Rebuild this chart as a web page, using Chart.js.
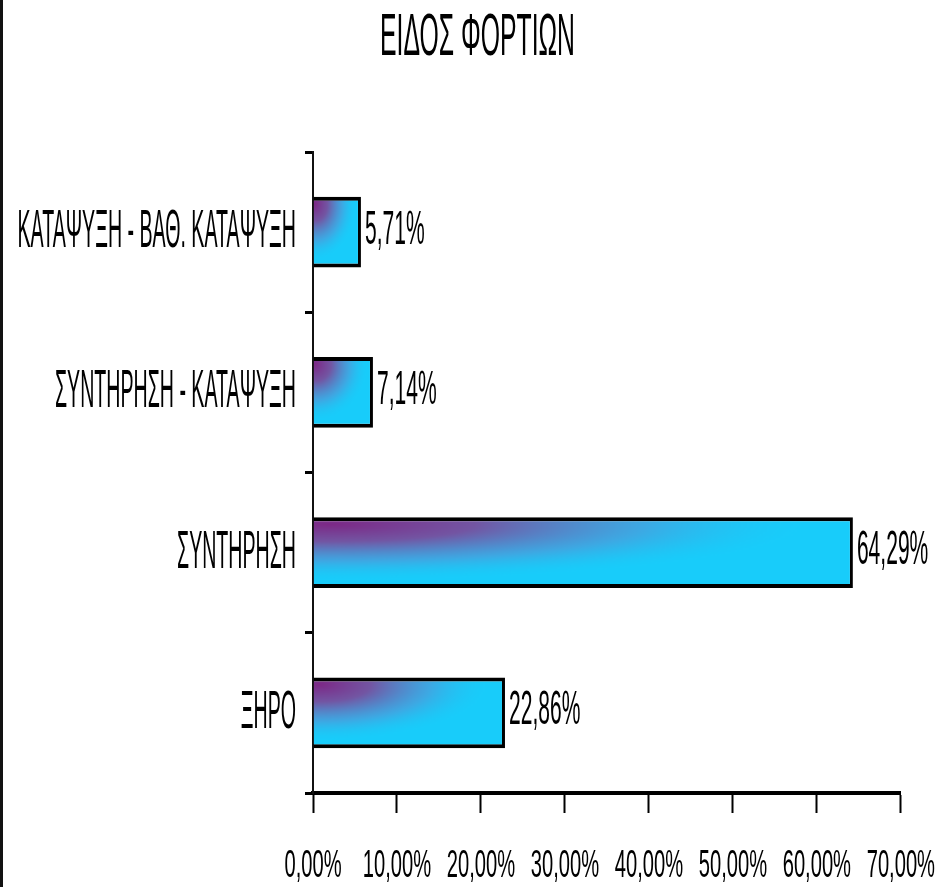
<!DOCTYPE html>
<html>
<head>
<meta charset="utf-8">
<script src="https://cdn.jsdelivr.net/npm/chart.js@4"></script>
<style>
  html, body { margin: 0; padding: 0; background: #fff; }
  #wrap { position: relative; width: 939px; height: 887px; }
  #edge { position: absolute; left: 0; top: 0; width: 3px; height: 887px; background: #111; }
</style>
</head>
<body>
<div id="wrap">
  <canvas id="grafico" width="939" height="887"></canvas>
  <div id="edge"></div>
</div>
<script>
// data
const categorias = ["ΚΑΤΑΨΥΞΗ - ΒΑΘ. ΚΑΤΑΨΥΞΗ", "ΣΥΝΤΗΡΗΣΗ - ΚΑΤΑΨΥΞΗ", "ΣΥΝΤΗΡΗΣΗ", "ΞΗΡΟ"];
const valores = [5.71, 7.14, 64.29, 22.86];
const ticksX = [0, 10, 20, 30, 40, 50, 60, 70];
const titulo = "ΕΙΔΟΣ ΦΟΡΤΙΩΝ";

const FONTE = "'Liberation Sans', Arial, sans-serif";

// the original text is very condensed: squeeze glyphs horizontally,
// amount chosen by font size
const squeeze = { 60: 0.413, 54: 0.363, 49: 0.43, 38: 0.53 };
const proto = CanvasRenderingContext2D.prototype;
const origFill = proto.fillText;
const origMeasure = proto.measureText;
function fator(ctx) {
    const m = /(\d+(?:\.\d+)?)px/.exec(ctx.font);
    return (m && squeeze[Math.round(+m[1])]) || 1;
}
proto.fillText = function (t, x, y, mw) {
    const s = fator(this);
    if (s === 1) return origFill.apply(this, arguments);
    this.save();
    this.translate(x, y);
    this.scale(s, 1);
    origFill.call(this, t, 0, 0);
    this.restore();
};
proto.measureText = function (t) {
    const m = origMeasure.call(this, t);
    const s = fator(this);
    if (s === 1) return m;
    return {
        width: m.width * s,
        actualBoundingBoxLeft: m.actualBoundingBoxLeft * s,
        actualBoundingBoxRight: m.actualBoundingBoxRight * s,
        actualBoundingBoxAscent: m.actualBoundingBoxAscent,
        actualBoundingBoxDescent: m.actualBoundingBoxDescent
    };
};

const fmt = v => v.toFixed(2).replace(".", ",") + "%";

// purple corner fading into cyan, one pattern per bar
const gradiente = {
    id: "gradiente",
    beforeDatasetsDraw(chart) {
        const ctx = chart.ctx;
        chart.getDatasetMeta(0).data.forEach(bar => {
            const left = Math.min(bar.base, bar.x);
            const w = Math.max(1, Math.round(Math.abs(bar.x - bar.base)));
            const h = Math.max(1, Math.round(bar.height));
            const top = bar.y - bar.height / 2;
            const off = document.createElement("canvas");
            off.width = w; off.height = h;
            const o = off.getContext("2d");
            o.fillStyle = "#18ccfa";
            o.fillRect(0, 0, w, h);
            o.save();
            o.translate(w * 0.03, h * 0.1);
            o.scale(Math.max(w * 0.9, 30), h * 0.8);
            const g = o.createRadialGradient(0, 0, 0, 0, 0, 1);
            g.addColorStop(0, "rgba(124,40,134,1)");
            g.addColorStop(0.3, "rgba(122,75,155,0.92)");
            g.addColorStop(0.65, "rgba(85,145,212,0.6)");
            g.addColorStop(1, "rgba(24,204,250,0)");
            o.fillStyle = g;
            o.fillRect(-2, -2, 4, 4);
            o.restore();
            const pat = ctx.createPattern(off, "no-repeat");
            pat.setTransform(new DOMMatrix().translate(left, top));
            bar.options = Object.assign({}, bar.options, { backgroundColor: pat });
        });
    }
};

// value labels right of each bar
const rotulos = {
    id: "rotulos",
    afterDatasetsDraw(chart) {
        const ctx = chart.ctx;
        const ds = chart.data.datasets[0];
        ctx.save();
        ctx.font = "49px " + FONTE;
        ctx.fillStyle = "#000";
        ctx.textAlign = "left";
        ctx.textBaseline = "middle";
        chart.getDatasetMeta(0).data.forEach((bar, i) => {
            ctx.fillText(fmt(ds.data[i]), bar.x + 4, bar.y - 2);
        });
        ctx.restore();
    }
};

// title sits a little right of the canvas centre in the original
const tituloDesloc = {
    id: "tituloDesloc",
    afterLayout(chart) {
        if (chart.titleBlock) chart.titleBlock.left += 46;
    }
};

new Chart(document.getElementById("grafico"), {
    type: "bar",
    data: {
        labels: categorias,
        datasets: [{
            data: valores,
            backgroundColor: () => "#18ccfa",
            borderColor: "#000",
            borderWidth: { top: 4, bottom: 4, right: 3, left: 0 },
            borderSkipped: false,
            categoryPercentage: 1,
            barPercentage: 0.44
        }]
    },
    options: {
        indexAxis: "y",
        responsive: false,
        animation: false,
        layout: {
            padding: { left: 8, right: 38, top: 0, bottom: 0 }
        },
        plugins: {
            legend: { display: false },
            tooltip: { enabled: false },
            title: {
                display: true,
                text: titulo,
                color: "#000",
                font: { family: FONTE, size: 60, weight: "normal" },
                padding: { top: 2, bottom: 78 }
            }
        },
        scales: {
            x: {
                min: 0,
                max: 70,
                afterBuildTicks: s => { s.ticks = ticksX.map(v => ({ value: v })); },
                afterFit: s => { s.height = 94; },
                ticks: {
                    color: "#000",
                    font: { family: FONTE, size: 38, lineHeight: 2.6 },
                    padding: 4,
                    maxRotation: 0,
                    callback: v => fmt(v)
                },
                grid: {
                    drawOnChartArea: false,
                    tickLength: 20,
                    tickWidth: 2,
                    tickColor: "#000"
                },
                border: { display: true, color: "#000", width: 4 }
            },
            y: {
                afterFit: s => { s.width = 305; },
                ticks: {
                    color: "#000",
                    font: { family: FONTE, size: 54 },
                    padding: 9
                },
                grid: {
                    offset: true,
                    drawOnChartArea: false,
                    tickLength: 8,
                    tickWidth: 3,
                    tickColor: "#000"
                },
                border: { display: true, color: "#111", width: 2 }
            }
        }
    },
    plugins: [gradiente, rotulos, tituloDesloc]
});
</script>
</body>
</html>
